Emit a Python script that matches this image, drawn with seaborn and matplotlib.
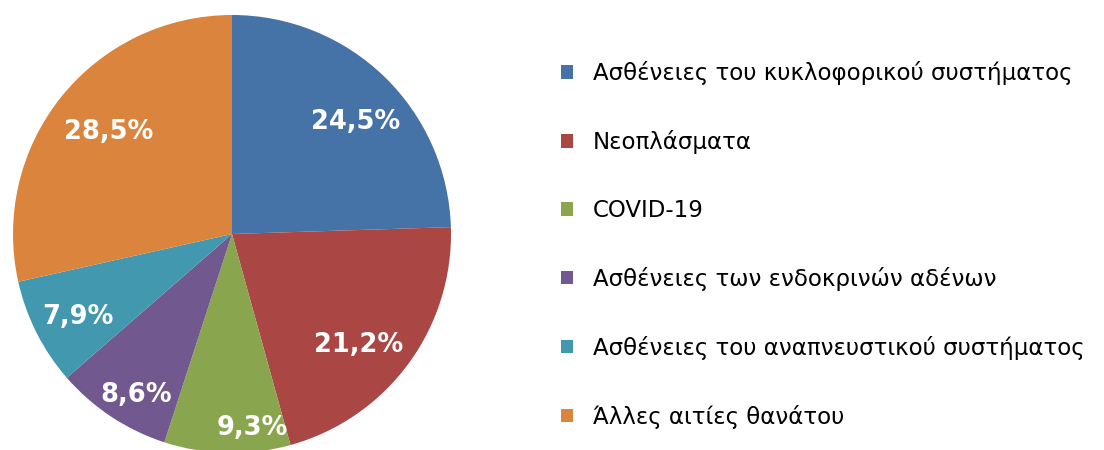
import numpy as np
import matplotlib
matplotlib.use("Agg")
import matplotlib.pyplot as plt
import seaborn as sns

categories = [
    "Ασθένειες του κυκλοφορικού συστήματος",
    "Νεοπλάσματα",
    "COVID-19",
    "Ασθένειες των ενδοκρινών αδένων",
    "Ασθένειες του αναπνευστικού συστήματος",
    "Άλλες αιτίες θανάτου",
]
values = [24.5, 21.2, 9.3, 8.6, 7.9, 28.5]
colors = ["#4572A7", "#AA4643", "#89A54E", "#71588F", "#4198AF", "#DB843D"]

# label placement style (radial distance, angular shift in degrees)
label_dist = [0.76, 0.77, 0.89, 0.855, 0.80, 0.73]
label_shift = [-3.7, -5.0, 7.2, 2.7, 1.4, -1.0]

sns.set_theme(style="white")
plt.rcParams['font.family'] = ['DejaVu Sans']

W, H = 1104, 450
fig = plt.figure(figsize=(W / 100, H / 100), dpi=100)
cx, cy, r = 232, 450 - 234, 219
ax = fig.add_axes([(cx - r) / W, (cy - r) / H, 2 * r / W, 2 * r / H])

pal = sns.color_palette(colors)
wedges, texts = ax.pie(values, colors=pal, startangle=90, counterclock=False,
                       radius=1, wedgeprops=dict(linewidth=0))
ax.set_xlim(-1, 1)
ax.set_ylim(-1, 1)
ax.set_aspect("equal")
ax.axis("off")

for w, v, d, s in zip(wedges, values, label_dist, label_shift):
    mid = np.deg2rad((w.theta1 + w.theta2) / 2 + s)
    ax.text(d * np.cos(mid), d * np.sin(mid), f"{v:.1f}%".replace(".", ","),
            ha="center", va="center", color="white", fontsize=18.5,
            fontweight="bold")

leg = fig.legend(wedges, categories, loc="upper left",
                 bbox_to_anchor=(561 / W, 1 - 61 / H), frameon=False,
                 fontsize=16.5, handlelength=0.54, handleheight=0.54,
                 handletextpad=0.85, labelspacing=1.96, borderpad=0,
                 borderaxespad=0)
for t in leg.get_texts():
    t.set_color("#000000")

fig.savefig("out.png", dpi=100, facecolor="white")
